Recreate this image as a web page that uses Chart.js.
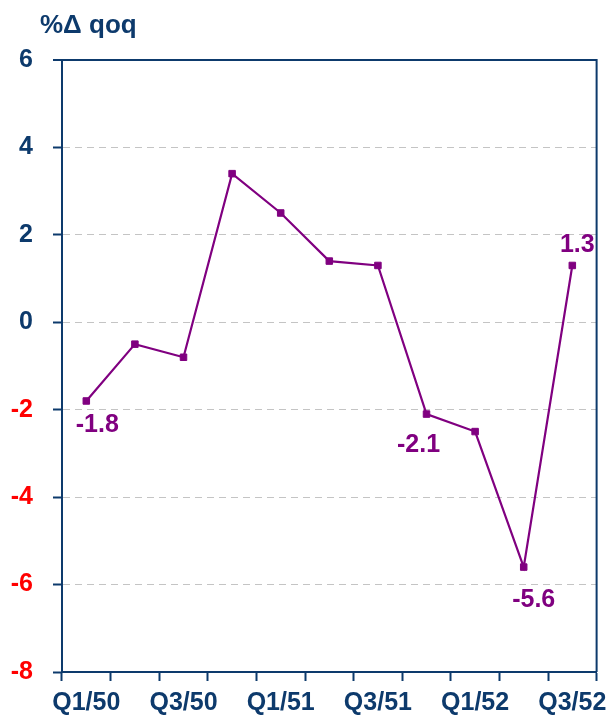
<!DOCTYPE html>
<html><head><meta charset="utf-8">
<script src="https://cdn.jsdelivr.net/npm/chart.js@4"></script>
<style>html,body{margin:0;padding:0;background:#fff}#wrap{width:614px;height:719px;position:relative}</style>
</head><body><div id="wrap"><canvas id="c"></canvas></div>
<script>
const categories = ['Q1/50','Q2/50','Q3/50','Q4/50','Q1/51','Q2/51','Q3/51','Q4/51','Q1/52','Q2/52','Q3/52'];
const values = [-1.8, -0.5, -0.8, 3.4, 2.5, 1.4, 1.3, -2.1, -2.5, -5.6, 1.3];
const labelledPoints = [0, 7, 9, 10];
const yMin = -8, yMax = 6, yStep = 2;
const titleText = '%Δ qoq';

const BLUE = '#0D3A6C';
const RED = '#FF0000';
const PURPLE = '#800080';
const GRID = '#C4C4C4';
const FONT = '"Liberation Sans", Arial, sans-serif';

const labelOffsets = {0: [11, 22], 7: [-8, 29], 9: [10, 31], 10: [5, -22]};

const extras = {
  id: 'extras',
  afterDraw(chart) {
    const ctx = chart.ctx, a = chart.chartArea;
    ctx.save();
    ctx.strokeStyle = BLUE; ctx.lineWidth = 2;
    ctx.beginPath(); ctx.moveTo(a.right, a.top - 1); ctx.lineTo(a.right, a.bottom); ctx.stroke();
    ctx.fillStyle = BLUE;
    ctx.font = 'bold 26px ' + FONT;
    ctx.textAlign = 'left'; ctx.textBaseline = 'alphabetic';
    ctx.fillText(titleText, 40, 33);
    const meta = chart.getDatasetMeta(0);
    ctx.fillStyle = PURPLE;
    ctx.font = 'bold 25px ' + FONT;
    ctx.textAlign = 'center';
    labelledPoints.forEach(i => {
      const p = meta.data[i];
      const o = labelOffsets[i] || [0, 0];
      ctx.fillText(values[i].toFixed(1), p.x + o[0], p.y + o[1] + 9);
    });
    ctx.restore();
  }
};

new Chart(document.getElementById('c'), {
  type: 'line',
  data: {
    labels: categories,
    datasets: [{
      data: values,
      borderColor: PURPLE,
      borderWidth: 2.2,
      tension: 0,
      pointStyle: 'rect',
      pointRadius: 4.6,
      pointBackgroundColor: PURPLE,
      pointBorderColor: PURPLE,
      pointBorderWidth: 1
    }]
  },
  options: {
    responsive: true,
    maintainAspectRatio: false,
    animation: false,
    layout: {padding: {top: 60, right: 14, left: 0, bottom: 0}},
    plugins: {legend: {display: false}, tooltip: {enabled: false}, title: {display: false}},
    scales: {
      x: {
        type: 'category',
        offset: true,
        afterFit(s) { s.height = 47; },
        grid: {
          display: true, drawOnChartArea: false, drawTicks: true, offset: true,
          tickLength: 9, tickColor: BLUE, tickWidth: 2
        },
        border: {display: true, color: BLUE, width: 2},
        ticks: {
          autoSkip: false, maxRotation: 0, minRotation: 0, padding: 7,
          color: BLUE,
          font: {family: FONT, size: 25, weight: 'bold'},
          callback: (v, i) => (i % 2 === 0 ? categories[i] : '')
        }
      },
      y: {
        min: yMin, max: yMax,
        afterFit(s) { s.width = 62; },
        grid: {
          color: c => (c.tick && c.tick.value === yMax) ? BLUE : (c.tick && c.tick.value === yMin ? 'rgba(0,0,0,0)' : GRID),
          lineWidth: c => (c.tick && c.tick.value === yMax) ? 2 : 1,
          tickLength: 9, tickColor: BLUE, tickWidth: 2, tickBorderDash: []
        },
        border: {
          display: true, color: BLUE, width: 2,
          dash: c => (c.tick && c.tick.value === yMax) ? [] : [7, 5]
        },
        ticks: {
          stepSize: yStep, padding: 20,
          color: c => c.tick.value < 0 ? RED : BLUE,
          font: {family: FONT, size: 25, weight: 'bold'}
        }
      }
    }
  },
  plugins: [extras]
});
</script>
</body></html>
